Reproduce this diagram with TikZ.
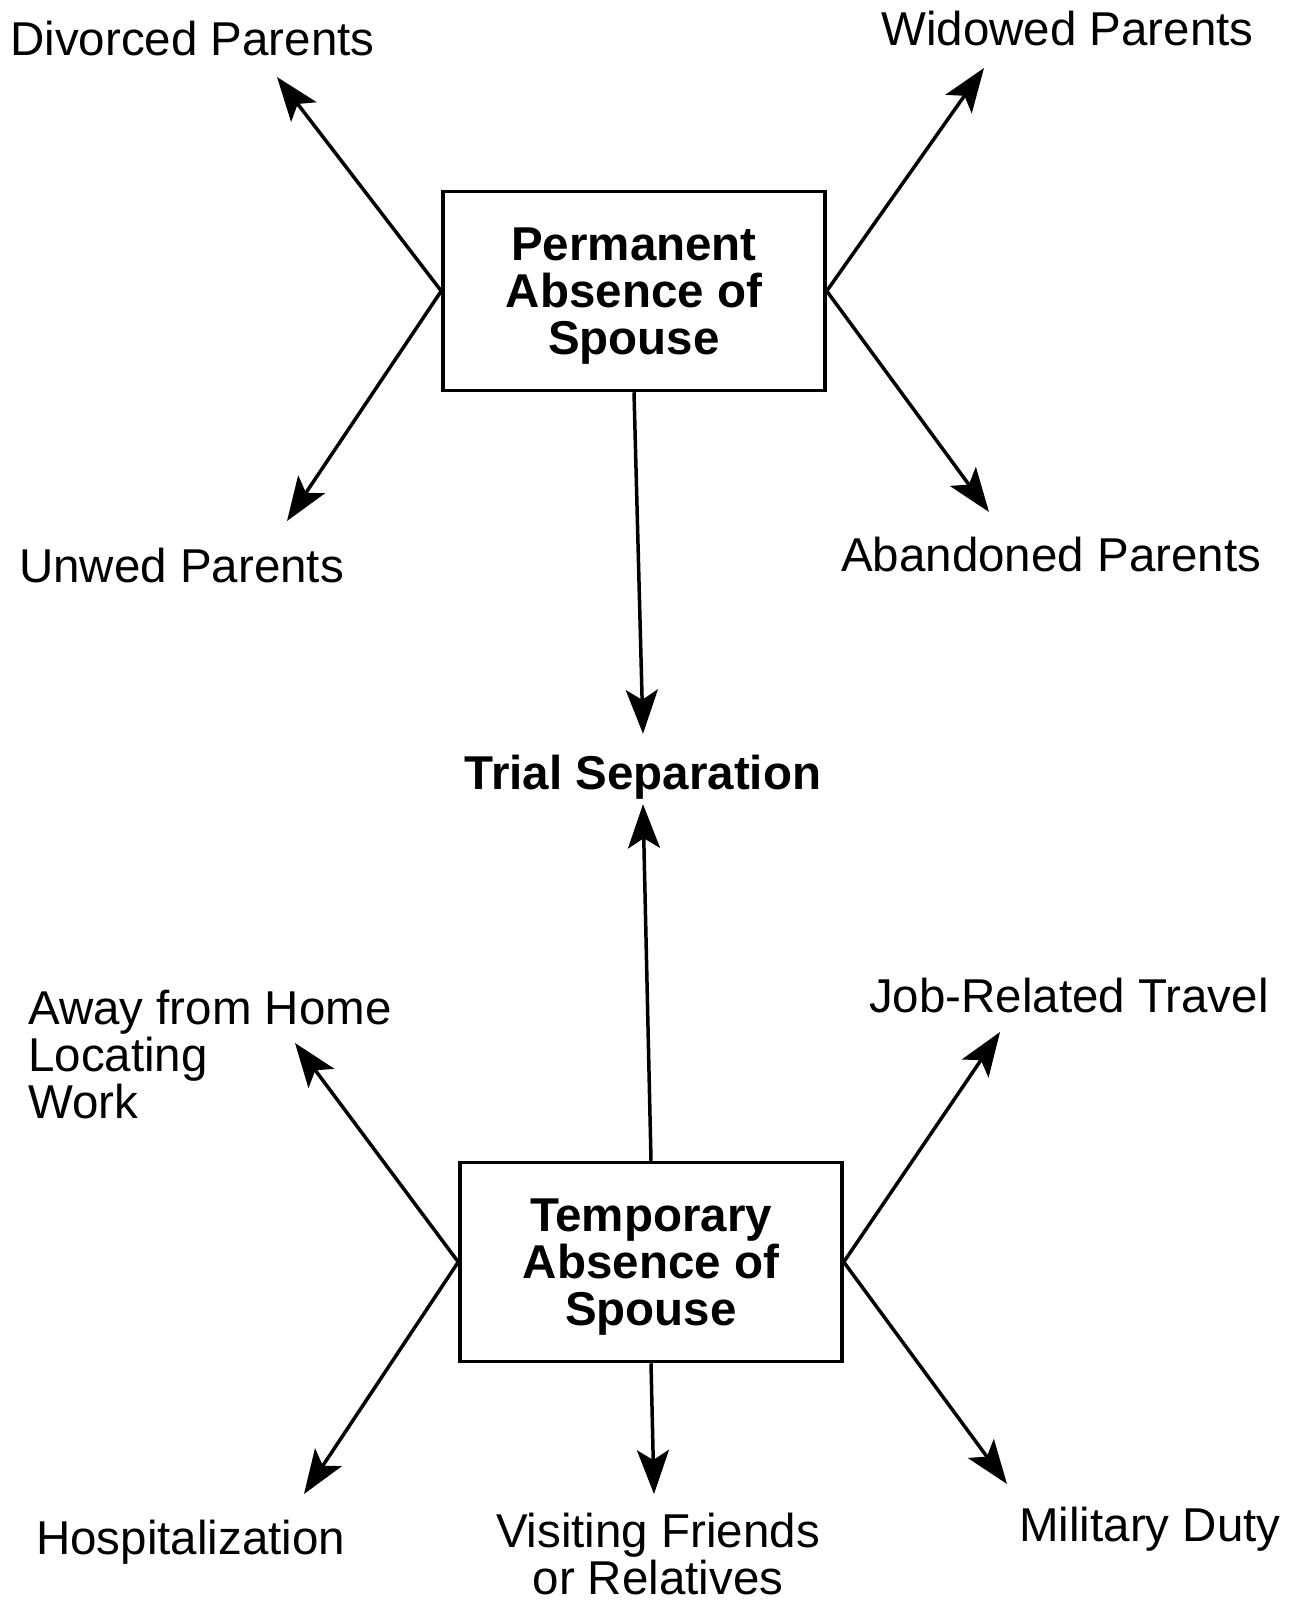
\documentclass[tikz,border=0pt]{standalone}
\usepackage{fontspec}
\setmainfont{Liberation Sans}
\usetikzlibrary{arrows.meta}
\begin{document}
\begin{tikzpicture}[x=1pt,y=-1pt,
  lbl/.style={font=\fontsize{47.5}{47}\selectfont, inner sep=0pt, anchor=base west},
  boxnode/.style={draw, line width=3.5pt, minimum width=382pt, minimum height=199pt, align=center, font=\fontsize{47.5}{47}\selectfont\bfseries, inner sep=0pt, text depth=0pt},
  arr/.style={line width=3.5pt, -{Stealth[length=44pt,width=32pt,inset=10pt]}}]
\useasboundingbox (0,0) rectangle (1293,1603);
% boxes
\node[boxnode] (perm) at (634,291) {Permanent\\Absence of\\Spouse};
\node[boxnode] (temp) at (651,1262) {Temporary\\Absence of\\Spouse};
\node[font=\fontsize{47.5}{47}\selectfont\bfseries, inner sep=0pt, text height=55pt, text depth=15pt, anchor=base] (trial) at (643,789) {Trial Separation};
% labels
\node[lbl] (div) at (10,56) {Divorced Parents};
\node[lbl] (wid) at (881,46) {Widowed Parents};
\node[lbl] (unw) at (19,582) {Unwed Parents};
\node[lbl] (aba) at (841,571) {Abandoned Parents};
\node[lbl, align=left] (away) at (28,1118) {Away from Home\\Locating\\Work};
\node[lbl] (job) at (869,1012) {Job-Related Travel};
\node[lbl] (hosp) at (36,1554) {Hospitalization};
\node[lbl, align=center, anchor=base] (visit) at (658,1594) {Visiting Friends\\or Relatives};
\node[lbl] (mil) at (1019,1541) {Military Duty};
% arrow tips
\coordinate (tDiv) at (277,77);
\coordinate (tWid) at (984,68);
\coordinate (tUnw) at (287,521);
\coordinate (tAba) at (989,512);
\coordinate (tAway) at (295,1043);
\coordinate (tJob) at (1000,1032);
\coordinate (tHosp) at (304,1494);
\coordinate (tMil) at (1007,1484);
\coordinate (tVisit) at (654,1494);
% connectors
\draw[arr] (perm.west) -- (tDiv);
\draw[arr] (perm.west) -- (tUnw);
\draw[arr] (perm.east) -- (tWid);
\draw[arr] (perm.east) -- (tAba);
\draw[arr] (perm.south) -- (trial.north);
\draw[arr] (temp.north) -- (trial.south);
\draw[arr] (temp.west) -- (tAway);
\draw[arr] (temp.west) -- (tHosp);
\draw[arr] (temp.east) -- (tJob);
\draw[arr] (temp.east) -- (tMil);
\draw[arr] (temp.south) -- (tVisit);
\end{tikzpicture}
\end{document}
